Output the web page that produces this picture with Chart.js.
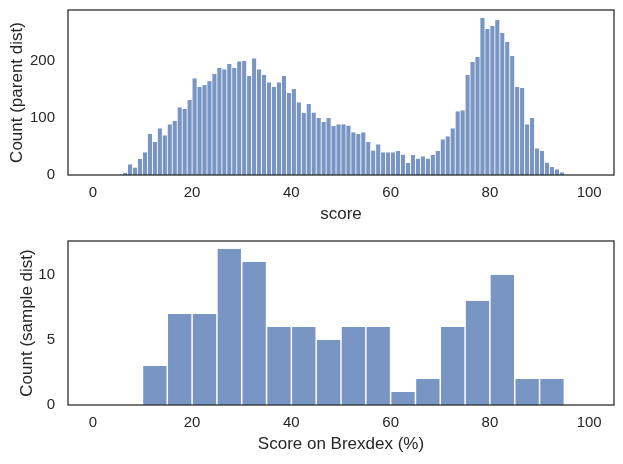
<!DOCTYPE html>
<html>
<head>
<meta charset="utf-8">
<script src="https://cdn.jsdelivr.net/npm/chart.js@4/dist/chart.umd.min.js"></script>
<style>
    html, body { margin: 0; padding: 0; background: #fff; }
    .panel { position: absolute; left: 0; width: 623px; height: 232px; }
    #top-panel { top: 0; }
    #bottom-panel { top: 232px; }
</style>
</head>
<body>
<div class="panel" id="top-panel"><canvas id="parent-chart" width="623" height="232"></canvas></div>
<div class="panel" id="bottom-panel"><canvas id="sample-chart" width="623" height="232"></canvas></div>
<script>
// parent distribution: 1-point bins starting at score 6
const parentFirstBin = 6;
const parentBinWidth = 1;
const parentCounts = [
    4, 19, 13, 28, 40, 72, 58, 82, 70, 89,
    95, 119, 116, 132, 170, 155, 158, 165, 178, 188,
    186, 195, 188, 200, 201, 174, 205, 186, 176, 163,
    155, 163, 174, 144, 151, 128, 109, 125, 110, 100,
    93, 100, 86, 89, 89, 87, 75, 72, 75, 58,
    43, 54, 40, 40, 40, 42, 36, 21, 35, 29,
    33, 29, 35, 42, 63, 68, 82, 112, 114, 176,
    199, 208, 276, 257, 262, 273, 250, 234, 209, 155,
    153, 89, 100, 47, 42, 22, 14, 10, 5,
];

// sample distribution: 5-point bins starting at score 10
const sampleFirstBin = 10;
const sampleBinWidth = 5;
const sampleCounts = [3, 7, 7, 12, 11, 6, 6, 5, 6, 6, 1, 2, 6, 8, 10, 2, 2];

const xTicks = [0, 20, 40, 60, 80, 100];
const parentYTicks = [0, 100, 200];
const sampleYTicks = [0, 5, 10];

const INK = '#262626';
const BAR = 'rgb(121, 149, 196)';
const FONT = '"Liberation Sans", Arial, sans-serif';

const framePlugin = {
    id: 'frame',
    afterDraw(chart) {
        const { ctx, chartArea: a } = chart;
        ctx.save();
        ctx.strokeStyle = INK;
        ctx.lineWidth = 1.25;
        ctx.strokeRect(a.left, a.top, a.right - a.left, a.bottom - a.top);
        ctx.restore();
    },
};

function toBars(firstBin, width, counts) {
    return counts.map((count, i) => ({ x: firstBin + width * (i + 0.5), y: count }));
}

function fixedTicks(values) {
    return scale => {
        scale.ticks = values.map(value => ({ value }));
    };
}

function drawHistogram(canvasId, bars, opts) {
    return new Chart(document.getElementById(canvasId), {
        type: 'bar',
        data: {
            datasets: [{
                data: bars,
                backgroundColor: BAR,
                borderColor: opts.edgeColor,
                borderWidth: { left: opts.edge, right: opts.edge, top: 0, bottom: 0 },
                borderSkipped: false,
                barPercentage: 1,
                categoryPercentage: 1,
                inflateAmount: 0,
            }],
        },
        options: {
            responsive: false,
            animation: false,
            events: [],
            layout: { padding: { top: opts.padTop, right: 9, bottom: 0, left: 0 } },
            plugins: { legend: { display: false }, tooltip: { enabled: false } },
            scales: {
                x: {
                    type: 'linear',
                    min: -5,
                    max: 105,
                    offset: false,
                    grid: { display: false, drawTicks: false },
                    border: { display: false },
                    afterBuildTicks: fixedTicks(xTicks),
                    afterFit: scale => {
                        scale.height = opts.xHeight;
                        scale.paddingLeft = 0;
                        scale.paddingRight = 0;
                    },
                    ticks: { color: INK, padding: 9, maxRotation: 0, font: { family: FONT, size: 15 } },
                    title: {
                        display: true,
                        text: opts.xTitle,
                        color: INK,
                        padding: { top: 0, bottom: opts.xTitlePad },
                        font: { family: FONT, size: 17 },
                    },
                },
                y: {
                    min: 0,
                    max: opts.yMax,
                    grid: { display: false, drawTicks: false },
                    border: { display: false },
                    afterBuildTicks: fixedTicks(opts.yTicks),
                    afterFit: scale => {
                        scale.width = 68;
                        scale.paddingTop = 0;
                        scale.paddingBottom = 0;
                    },
                    ticks: { color: INK, padding: 13, font: { family: FONT, size: 15 } },
                    title: {
                        display: true,
                        text: opts.yTitle,
                        color: INK,
                        padding: { top: opts.yTitlePad, bottom: 0 },
                        font: { family: FONT, size: 17 },
                    },
                },
            },
        },
        plugins: [framePlugin],
    });
}

drawHistogram('parent-chart', toBars(parentFirstBin, parentBinWidth, parentCounts), {
    padTop: 10,
    xHeight: 57,
    yMax: 290,
    yTicks: parentYTicks,
    xTitle: 'score',
    yTitle: 'Count (parent dist)',
    xTitlePad: 7,
    yTitlePad: 7,
    edge: 0.4,
    edgeColor: 'rgba(255, 255, 255, 0.8)',
});

drawHistogram('sample-chart', toBars(sampleFirstBin, sampleBinWidth, sampleCounts), {
    padTop: 9,
    xHeight: 59,
    yMax: 12.6,
    yTicks: sampleYTicks,
    xTitle: 'Score on Brexdex (%)',
    yTitle: 'Count (sample dist)',
    xTitlePad: 9,
    yTitlePad: 17,
    edge: 0.75,
    edgeColor: '#ffffff',
});
</script>
</body>
</html>
